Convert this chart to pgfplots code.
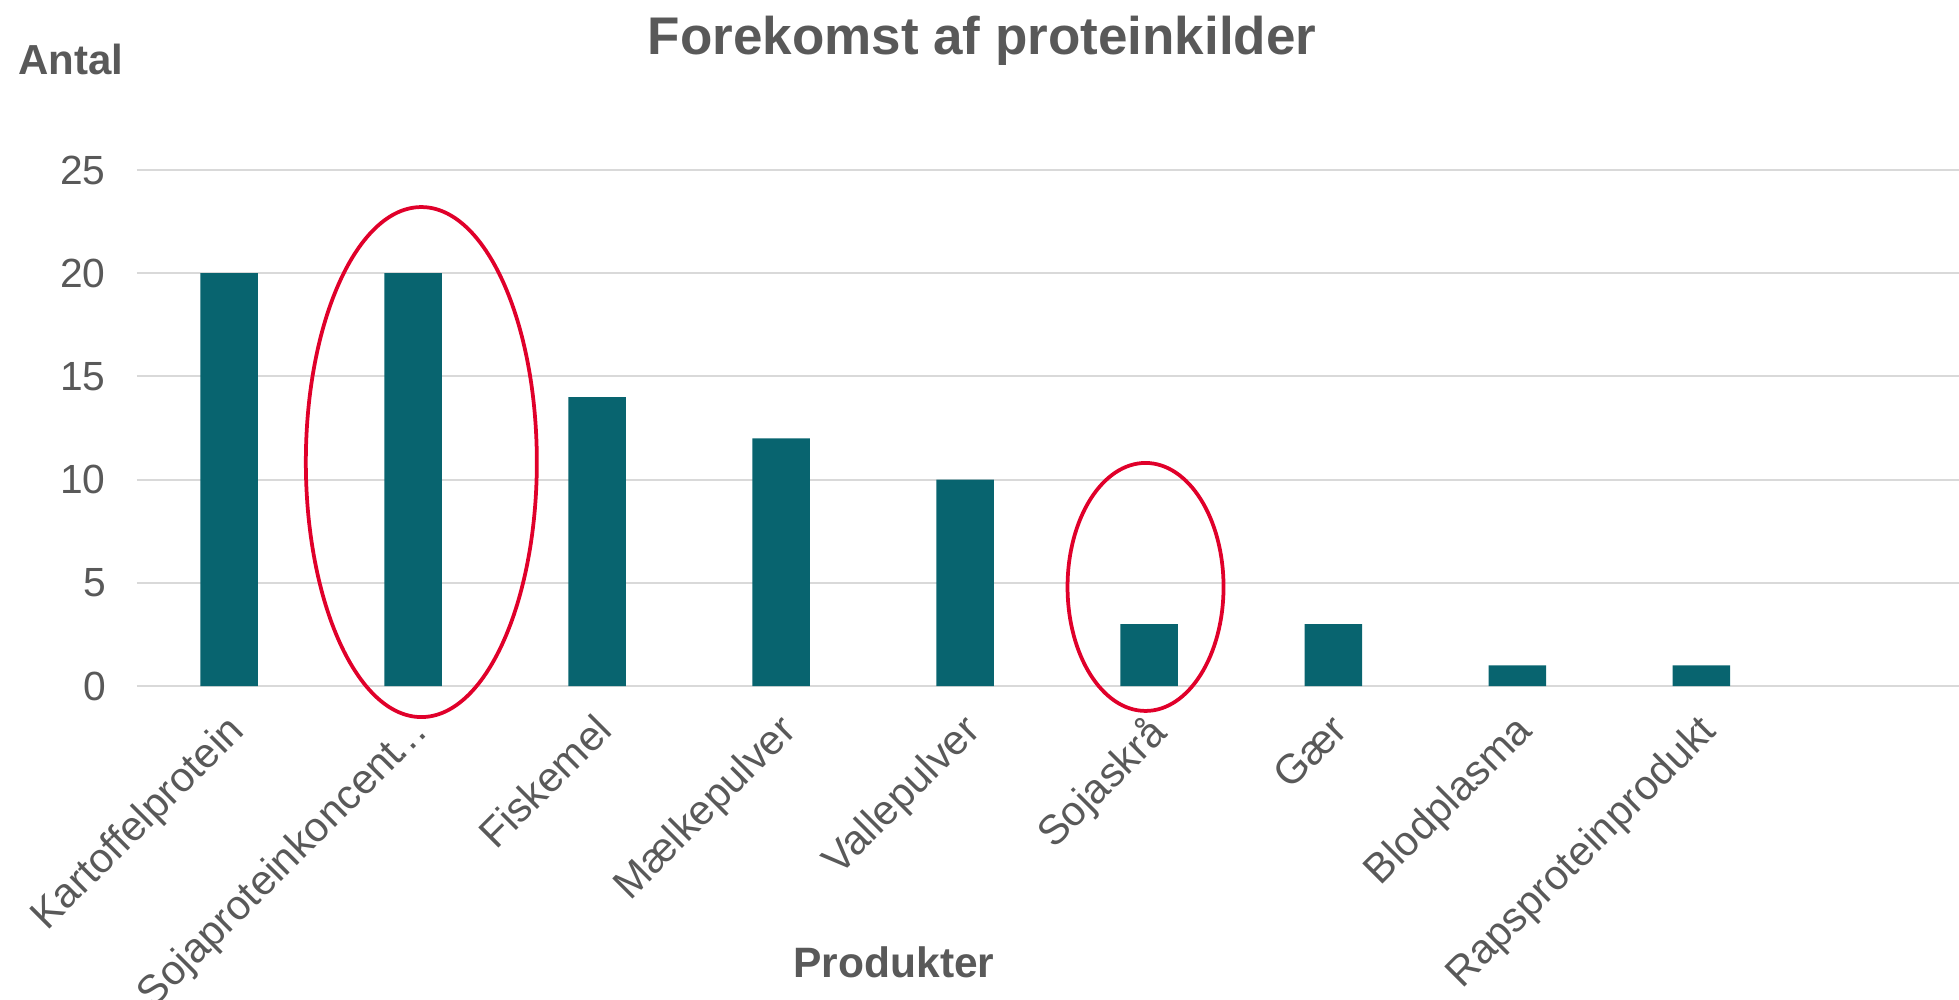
\documentclass[border=0pt]{standalone}
\usepackage{pgfplots}
\pgfplotsset{compat=1.18}
\usepackage{fontspec}
\setmainfont{Liberation Sans}
\definecolor{barc}{HTML}{08646F}
\definecolor{txt}{HTML}{595959}
\definecolor{gridc}{HTML}{D9D9D9}
\definecolor{redc}{HTML}{E0002A}
\begin{document}
\begin{tikzpicture}
\path[use as bounding box] (-54.8pt,-125.2pt) rectangle (728.8pt,274.4pt);
\begin{axis}[
  at={(0,0)}, anchor=south west,
  scale only axis,
  width=728.8pt, height=206.4pt,
  xmin=-0.5, xmax=9.4,
  ymin=0, ymax=25,
  ytick={0,5,10,15,20,25},
  xtick={0,1,2,3,4,5,6,7,8},
  xticklabels={Kartoffelprotein,Sojaproteinkoncent\kern-2.5pt…,Fiskemel,Mælkepulver,Vallepulver,Sojaskrå,Gær,Blodplasma,Rapsproteinprodukt},
  axis line style={draw=none},
  y axis line style={draw=none},
  x axis line style={draw=gridc, line width=0.8pt},
  axis x line*=bottom,
  axis y line*=left,
  tick style={draw=none},
  major tick length=0pt,
  ymajorgrids,
  grid style={gridc, line width=0.8pt},
  ticklabel style={font=\fontsize{16.3}{19}\selectfont, text=txt},
  /pgf/number format/assume math mode=true,
  yticklabel style={xshift=-9pt},
  xticklabel style={font=\fontsize{16.6}{20}\selectfont, rotate=45, anchor=north east, xshift=-5pt, yshift=-2.5pt},
  clip=false,
]
\addplot[ybar, bar width=23pt, fill=barc, draw=none] coordinates {
(0,20) (1,20) (2,14) (3,12) (4,10) (5,3) (6,3) (7,1) (8,1)};
\draw[redc, line width=1.5pt] (axis cs:1.045,10.85) ellipse [x radius=46.2pt, y radius=102pt];
\draw[redc, line width=1.5pt] (axis cs:4.98,4.8) ellipse [x radius=31.2pt, y radius=49.6pt];
\end{axis}
\node[text=txt, font=\fontsize{21.2}{25}\selectfont\bfseries] at (338pt,258pt) {Forekomst af proteinkilder};
\node[text=txt, font=\fontsize{16.8}{20}\selectfont\bfseries] at (-26.4pt,250.8pt) {Antal};
\node[text=txt, font=\fontsize{17}{20}\selectfont\bfseries] at (302.8pt,-110.4pt) {Produkter};
\end{tikzpicture}
\end{document}
